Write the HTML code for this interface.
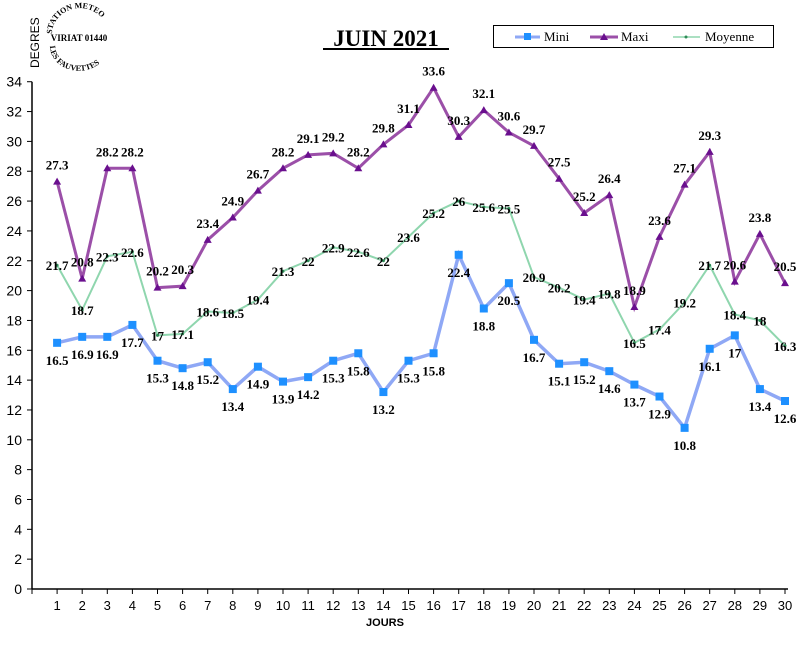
<!DOCTYPE html>
<html><head><meta charset="utf-8"><style>html,body{margin:0;padding:0;background:#fff;}</style></head>
<body>
<svg id="c" width="801" height="651" xmlns="http://www.w3.org/2000/svg" font-family="Liberation Sans, sans-serif">
<rect width="801" height="651" fill="#fff"/>
<text x="386" y="46" text-anchor="middle" font-family="Liberation Serif, serif" font-weight="bold" font-size="23">JUIN 2021</text>
<line x1="323" y1="49" x2="449" y2="49" stroke="#000" stroke-width="2"/>
<text transform="translate(39,68) rotate(-90)" font-size="12" >DEGRES</text>
<g font-family="Liberation Serif, serif" font-weight="bold" font-size="9">
<text x="79" y="41" text-anchor="middle">VIRIAT 01440</text>
<path id="arcT" d="M52,34 A26,24 0 0 1 108,34" fill="none"/>
<path id="arcB" d="M50,46 A28,24 0 0 0 108,46" fill="none"/>
<text font-size="8"><textPath href="#arcT">STATION METEO</textPath></text>
<text font-size="8"><textPath href="#arcB">LES FAUVETTES</textPath></text>
</g>
<rect x="493.5" y="25.5" width="280" height="22" fill="#fff" stroke="#000"/>
<g font-family="Liberation Serif, serif" font-size="13">
<line x1="515" y1="37" x2="540" y2="37" stroke="#8fa8f5" stroke-width="3"/><rect x="524" y="33" width="7" height="7" fill="#1e90ff"/><text x="544" y="41">Mini</text>
<line x1="590" y1="37" x2="618" y2="37" stroke="#9b4fa8" stroke-width="3"/><path d="M604,33 L608,40 L600,40Z" fill="#6a0f8e"/><text x="621" y="41">Maxi</text>
<line x1="673" y1="37" x2="700" y2="37" stroke="#8fd6ae" stroke-width="1.5"/><circle cx="686" cy="37" r="1.5" fill="#2e8b57"/><text x="705" y="41">Moyenne</text>
</g>
<g id="axes"></g>
<g id="plot"></g>
<text x="385" y="626" text-anchor="middle" font-size="11" font-weight="bold">JOURS</text>
</svg>
<script>
var ns="http://www.w3.org/2000/svg",ax=document.getElementById('axes'),pl=document.getElementById('plot');
function el(p,t,a,txt){var e=document.createElementNS(ns,t);for(var k in a)e.setAttribute(k,a[k]);if(txt!==undefined)e.textContent=txt;p.appendChild(e);return e;}
var X0=32,DX=25.1,Y0=589,S=14.92;
function X(i){return X0+DX*i;}function Y(v){return Y0-v*S;}
el(ax,'line',{x1:32,y1:Y(34),x2:32,y2:Y0,stroke:'#000','stroke-width':1.5});
el(ax,'line',{x1:32,y1:Y0,x2:X(30)+3,y2:Y0,stroke:'#000','stroke-width':1.5});
for(var v=0;v<=34;v+=2){el(ax,'line',{x1:27,y1:Y(v),x2:32,y2:Y(v),stroke:'#000'});el(ax,'text',{x:22,y:Y(v)+5,'text-anchor':'end','font-size':14},v);}
for(var i=0;i<=30;i++){el(ax,'line',{x1:X(i),y1:Y0,x2:X(i),y2:Y0+5,stroke:'#000'});if(i>0)el(ax,'text',{x:X(i),y:610,'text-anchor':'middle','font-size':13},i);}
var maxi=[27.3,20.8,28.2,28.2,20.2,20.3,23.4,24.9,26.7,28.2,29.1,29.2,28.2,29.8,31.1,33.6,30.3,32.1,30.6,29.7,27.5,25.2,26.4,18.9,23.6,27.1,29.3,20.6,23.8,20.5];
var mini=[16.5,16.9,16.9,17.7,15.3,14.8,15.2,13.4,14.9,13.9,14.2,15.3,15.8,13.2,15.3,15.8,22.4,18.8,20.5,16.7,15.1,15.2,14.6,13.7,12.9,10.8,16.1,17,13.4,12.6];
var moy=[21.7,18.7,22.3,22.6,17,17.1,18.6,18.5,19.4,21.3,22,22.9,22.6,22,23.6,25.2,26,25.6,25.5,20.9,20.2,19.4,19.8,16.5,17.4,19.2,21.7,18.4,18,16.3];
function line(d,c,w){var p=d.map(function(v,i){return X(i+1)+','+Y(v)}).join(' ');el(pl,'polyline',{points:p,fill:'none',stroke:c,'stroke-width':w});}
function lab(d,dy){d.forEach(function(v,i){el(pl,'text',{x:X(i+1),y:Y(v)+dy,'text-anchor':'middle','font-family':'Liberation Serif, serif','font-weight':'bold','font-size':13},v);});}
line(moy,'#8fd6ae',2);
moy.forEach(function(v,i){el(pl,'circle',{cx:X(i+1),cy:Y(v),r:1.5,fill:'#2e8b57'});});
line(mini,'#8fa8f5',3.5);
mini.forEach(function(v,i){el(pl,'rect',{x:X(i+1)-4,y:Y(v)-4,width:8,height:8,fill:'#1e90ff'});});
line(maxi,'#9b4fa8',3);
maxi.forEach(function(v,i){var x=X(i+1),y=Y(v);el(pl,'path',{d:'M'+x+','+(y-4)+' L'+(x+4)+','+(y+3)+' L'+(x-4)+','+(y+3)+'Z',fill:'#6a0f8e'});});
lab(moy,5);lab(maxi,-12);lab(mini,22);
</script>
</body></html>
